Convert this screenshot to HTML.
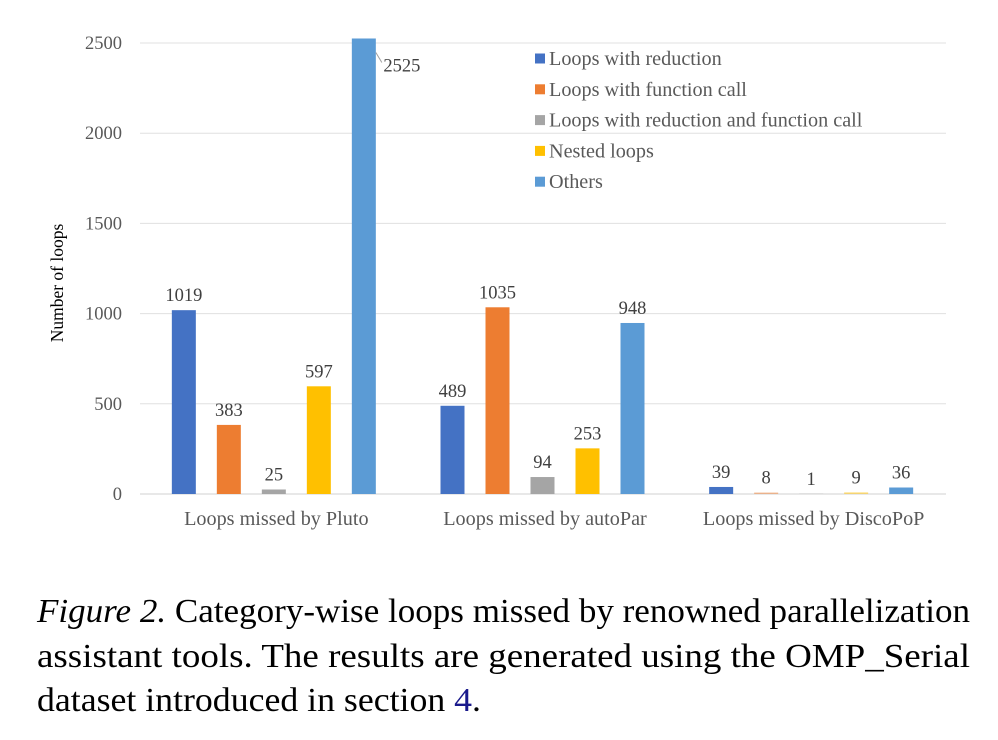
<!DOCTYPE html>
<html><head><meta charset="utf-8"><style>
body{margin:0;background:#fff;width:998px;height:740px;overflow:hidden}
svg{display:block}
text{font-family:"Liberation Serif",serif}
</style></head><body>
<svg id="chart" width="998" height="740">
<g id="grid"></g><g id="bars"></g><g id="labels"></g>
<g id="legend"></g>
<text transform="translate(63,283) rotate(-90)" text-anchor="middle" font-size="17.5" fill="#000">Number of loops</text>
<g font-size="34" fill="#000">
<text x="37" y="622" textLength="933" lengthAdjust="spacingAndGlyphs"><tspan font-style="italic">Figure 2.</tspan> Category-wise loops missed by renowned parallelization</text>
<text x="37" y="667" textLength="933" lengthAdjust="spacingAndGlyphs">assistant tools.  The results are generated using the OMP_Serial</text>
<text x="37" y="711" textLength="444" lengthAdjust="spacingAndGlyphs">dataset introduced in section <tspan fill="#1a1a8c">4</tspan>.</text>
</g>
</svg>
<script>
const categories=["Loops missed by Pluto","Loops missed by autoPar","Loops missed by DiscoPoP"];
const seriesNames=["Loops with reduction","Loops with function call","Loops with reduction and function call","Nested loops","Others"];
const reduction=[1019,489,39];
const funcCall=[383,1035,8];
const redFunc=[25,94,1];
const nested=[597,253,9];
const others=[2525,948,36];
const yTicks=[0,500,1000,1500,2000,2500];
const colors=["#4472c4","#ed7d31","#a5a5a5","#ffc000","#5b9bd5"];
const series=[reduction,funcCall,redFunc,nested,others];
const NS="http://www.w3.org/2000/svg";
const y0=494,yTop=43,left=140,right=946;
const y=v=>y0-(v/2500)*(y0-yTop);
const groupW=(right-left)/categories.length;
const xBar=(g,s)=>left+groupW*g+groupW/2+(s-2)*45-12.5;
function mk(tag,attrs,parent){const e=document.createElementNS(NS,tag);for(const k in attrs)e.setAttribute(k,attrs[k]);parent.appendChild(e);return e;}
const grid=document.getElementById('grid'),bars=document.getElementById('bars'),labels=document.getElementById('labels'),legend=document.getElementById('legend');
yTicks.forEach(t=>{
 const l=mk('line',{x1:left,x2:right,y1:y(t),y2:y(t),stroke:t===0?'#d0d0d0':'#e0e0e0','stroke-width':1},grid);
 
 
 const tx=mk('text',{x:122,y:y(t)+6,'text-anchor':'end','font-size':18.5,fill:'#595959'},grid);
 tx.textContent=t;
 
 
});
categories.forEach((c,g)=>{
 const tx=mk('text',{x:left+groupW*g+groupW/2+2,y:525,'text-anchor':'middle','font-size':20.2,fill:'#595959'},labels);
 tx.textContent=c;
 
 
 series.forEach((arr,s)=>{
  const v=arr[g],x=xBar(g,s),yy=y(v);
  const r=mk('rect',{x:x,y:yy,width:24,height:y0-yy,fill:colors[s],opacity:(g===2&&(s===1||s===3))?0.5:1},bars);
  
  
  let lx=x+12,ly=yy-9;
  if(v>2400){lx=x+50;ly=yy+33;mk('line',{x1:x+24,y1:yy+14,x2:x+30,y2:yy+24,stroke:'#a0a0a0'},labels);}
  const vt=mk('text',{x:lx,y:ly,'text-anchor':'middle','font-size':18.5,fill:'#404040'},labels);
  vt.textContent=v;
  
  
 });
});
seriesNames.forEach((n,i)=>{
 const yy=58.5+i*30.8;
 const sq=mk('rect',{x:535,y:yy-5,width:10,height:10,fill:colors[i]},legend);
 
 
 const t=mk('text',{x:549,y:yy+6.5,'font-size':20.2,fill:'#595959'},legend);
 t.textContent=n;
 
 
});
</script>
</body></html>
